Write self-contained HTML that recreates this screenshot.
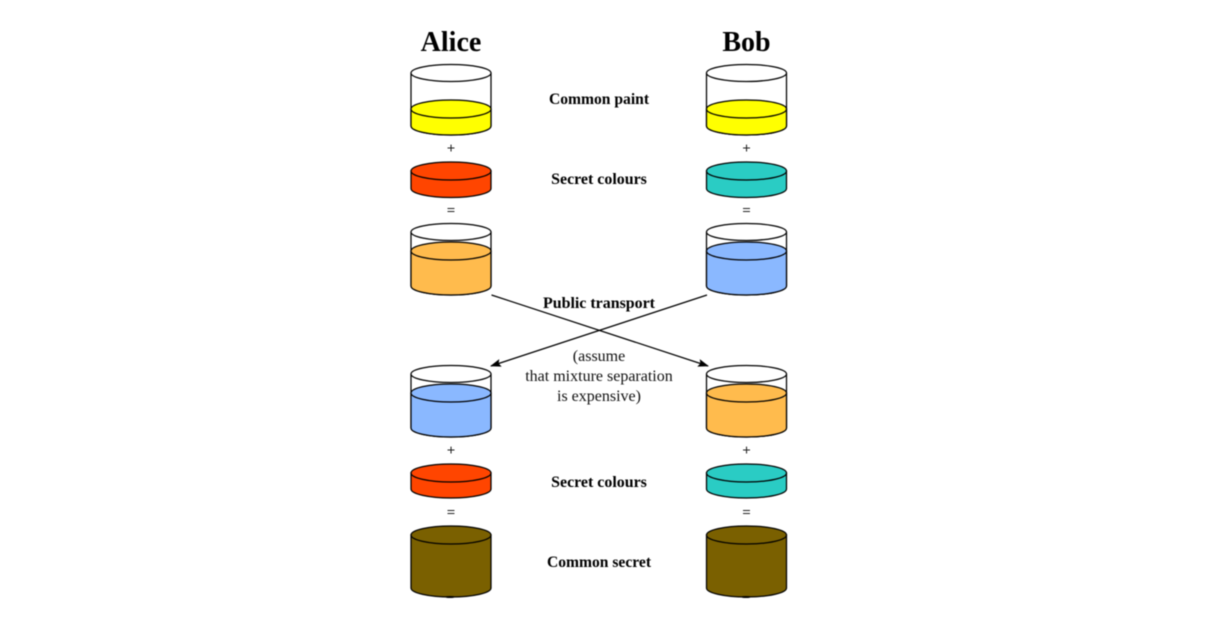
<!DOCTYPE html>
<html>
<head>
<meta charset="utf-8">
<style>
html,body{margin:0;padding:0;background:#fff;width:1208px;height:637px;overflow:hidden}
svg{display:block;filter:blur(0.6px)}
text{font-family:"Liberation Serif",serif;text-anchor:middle;fill:#000}
.h{font-size:28px;font-weight:bold}
.b{font-size:15.6px;font-weight:bold}
.w{font-size:15.95px;font-weight:bold}
.n{font-size:16px;fill:#111}
.s{font-size:15px;font-weight:bold;fill:#222}
.o{stroke:#000;stroke-width:1.25}
</style>
</head>
<body>
<svg width="1208" height="637" viewBox="0 0 1208 637" xmlns="http://www.w3.org/2000/svg">
<defs>
<marker id="a" markerWidth="11" markerHeight="9" refX="10" refY="4.5" orient="auto" markerUnits="userSpaceOnUse">
<path d="M0 0.5L11 4.5L0 8.5L2 4.5Z" fill="#000"/>
</marker>
</defs>

<text class="h" x="451" y="51">Alice</text>
<text class="h" x="746.5" y="51">Bob</text>

<!-- Alice column -->
<g class="o">
<path d="M411 73V126A40 9 0 0 0 491 126V73" fill="#fff"/>
<ellipse cx="451" cy="73" rx="40" ry="8.5" fill="#fff"/>
<path d="M411 109V126A40 9 0 0 0 491 126V109Z" fill="#ff0"/>
<ellipse cx="451" cy="109" rx="40" ry="9" fill="#ff0"/>

<path d="M411 171V188.5A40 9 0 0 0 491 188.5V171Z" fill="#ff4500"/>
<ellipse cx="451" cy="171" rx="40" ry="9" fill="#ff4500"/>

<path d="M411 232V286A40 9 0 0 0 491 286V232" fill="#fff"/>
<ellipse cx="451" cy="232" rx="40" ry="8.5" fill="#fff"/>
<path d="M411 251V286A40 9 0 0 0 491 286V251Z" fill="#ffbb4d"/>
<ellipse cx="451" cy="251" rx="40" ry="9" fill="#ffbb4d"/>

<path d="M411 374V428A40 9 0 0 0 491 428V374" fill="#fff"/>
<ellipse cx="451" cy="374" rx="40" ry="8.5" fill="#fff"/>
<path d="M411 393V428A40 9 0 0 0 491 428V393Z" fill="#8ab8ff"/>
<ellipse cx="451" cy="393" rx="40" ry="9" fill="#8ab8ff"/>

<path d="M411 473V489A40 9 0 0 0 491 489V473Z" fill="#ff4500"/>
<ellipse cx="451" cy="473" rx="40" ry="9" fill="#ff4500"/>

<path d="M411 535V588A40 9 0 0 0 491 588V535Z" fill="#7a6000"/>
<ellipse cx="451" cy="535" rx="40" ry="9" fill="#7a6000"/>
</g>

<!-- Bob column -->
<g class="o">
<path d="M706.5 73V126A40 9 0 0 0 786.5 126V73" fill="#fff"/>
<ellipse cx="746.5" cy="73" rx="40" ry="8.5" fill="#fff"/>
<path d="M706.5 109V126A40 9 0 0 0 786.5 126V109Z" fill="#ff0"/>
<ellipse cx="746.5" cy="109" rx="40" ry="9" fill="#ff0"/>

<path d="M706.5 171V188.5A40 9 0 0 0 786.5 188.5V171Z" fill="#2accc4"/>
<ellipse cx="746.5" cy="171" rx="40" ry="9" fill="#2accc4"/>

<path d="M706.5 232V286A40 9 0 0 0 786.5 286V232" fill="#fff"/>
<ellipse cx="746.5" cy="232" rx="40" ry="8.5" fill="#fff"/>
<path d="M706.5 251V286A40 9 0 0 0 786.5 286V251Z" fill="#8ab8ff"/>
<ellipse cx="746.5" cy="251" rx="40" ry="9" fill="#8ab8ff"/>

<path d="M706.5 374V428A40 9 0 0 0 786.5 428V374" fill="#fff"/>
<ellipse cx="746.5" cy="374" rx="40" ry="8.5" fill="#fff"/>
<path d="M706.5 393V428A40 9 0 0 0 786.5 428V393Z" fill="#ffbb4d"/>
<ellipse cx="746.5" cy="393" rx="40" ry="9" fill="#ffbb4d"/>

<path d="M706.5 473V489A40 9 0 0 0 786.5 489V473Z" fill="#2accc4"/>
<ellipse cx="746.5" cy="473" rx="40" ry="9" fill="#2accc4"/>

<path d="M706.5 535V588A40 9 0 0 0 786.5 588V535Z" fill="#7a6000"/>
<ellipse cx="746.5" cy="535" rx="40" ry="9" fill="#7a6000"/>
</g>

<!-- Small marks at the base of the final cylinders -->
<ellipse cx="450" cy="597" rx="5" ry="1" fill="#000"/>
<ellipse cx="746" cy="597" rx="5" ry="1" fill="#000"/>

<!-- Arrows -->
<line x1="491.5" y1="295" x2="708" y2="366" stroke="#000" stroke-width="1.25" marker-end="url(#a)"/>
<line x1="707" y1="295" x2="491" y2="366" stroke="#000" stroke-width="1.25" marker-end="url(#a)"/>

<!-- Operators -->
<text class="s" x="451" y="153">+</text>
<text class="s" x="746.5" y="153">+</text>
<text class="s" x="451" y="215">=</text>
<text class="s" x="746.5" y="215">=</text>
<text class="s" x="451" y="455">+</text>
<text class="s" x="746.5" y="455">+</text>
<text class="s" x="451" y="517">=</text>
<text class="s" x="746.5" y="517">=</text>

<!-- Labels -->
<text class="b" x="599" y="104">Common paint</text>
<text class="w" x="599" y="184">Secret colours</text>
<text class="w" x="599" y="308">Public transport</text>
<text class="n" x="599" y="361">(assume</text>
<text class="n" x="599" y="381">that mixture separation</text>
<text class="n" x="599" y="401">is expensive)</text>
<text class="w" x="599" y="487">Secret colours</text>
<text class="b" x="599" y="567">Common secret</text>
</svg>
</body>
</html>
